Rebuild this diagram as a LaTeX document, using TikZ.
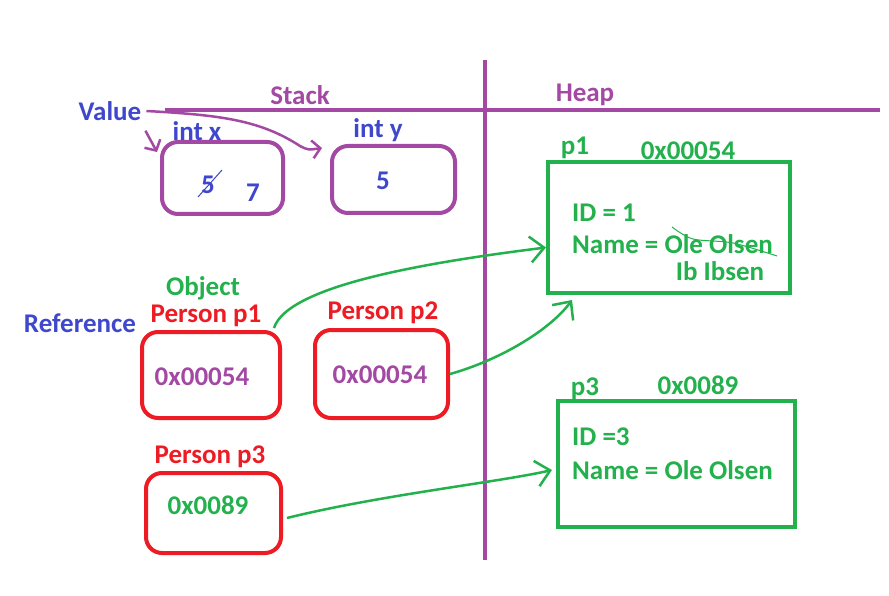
\documentclass[tikz,border=0pt]{standalone}
\usepackage{fontspec}
\setmainfont{Carlito}
\usetikzlibrary{arrows.meta,positioning}
\definecolor{stackpurple}{RGB}{163,73,164}
\definecolor{valblue}{RGB}{63,72,204}
\definecolor{refred}{RGB}{237,28,36}
\definecolor{heapgreen}{RGB}{34,177,76}

\begin{document}
\begin{tikzpicture}[x=1pt,y=-1pt,
  txt/.style={font=\bfseries\fontsize{27}{30}\selectfont,inner sep=0pt},
  valbox/.style={draw=stackpurple,line width=4pt,rounded corners=16pt},
  refbox/.style={draw=refred,line width=4pt,rounded corners=16pt},
  objbox/.style={draw=heapgreen,line width=4pt},
  pointer/.style={heapgreen,line width=2.5pt,-{Straight Barb[length=14pt,width=26pt,line width=2.5pt]}},
  valarrow/.style={stackpurple,line width=2.5pt,-{Straight Barb[length=8pt,width=18pt,line width=2.5pt]}}]
  \useasboundingbox (0,0) rectangle (889,596);
  \fill[white] (0,0) rectangle (889,596);

  % stack / heap dividers
  \draw[stackpurple,line width=4pt] (165,110) -- (880,110);
  \draw[stackpurple,line width=4pt] (485,60) -- (485,560);
  \node[txt,stackpurple] (lblStack) at (300,95) {Stack};
  \node[txt,stackpurple] (lblHeap) at (585,95) {Heap};

  % value types
  \node[txt,valblue] (lblValue) at (110,111) {Value};
  \node[valbox,minimum width=121,minimum height=72] (xbox) at (222.5,178) {};
  \node[valbox,minimum width=123,minimum height=67] (ybox) at (393.5,179.5) {};
  \node[txt,valblue] (lblIntX) at (197,131) {int x};
  \node[txt,valblue] (lblIntY) at (378,130) {int y};
  \node[txt,valblue] (xold) at (208,185) {5};
  \node[txt,valblue] (xnew) at (253,193) {7};
  \node[txt,valblue] (yval) at (383,181) {5};
  \draw[valblue,line width=1pt] (198,197) -- (222,170);

  \coordinate (valtip) at (157,152);
  \draw[valarrow] ([xshift=4pt,yshift=-10pt]lblValue.south east) -- (valtip);
  \draw[valarrow] ([xshift=5pt]lblValue.east) .. controls (220,115) and (260,120) .. (300,146)
    .. controls (308,150) .. ([xshift=-8pt,yshift=-4pt]ybox.north west);

  % references
  \node[txt,valblue] (lblReference) at (80,323) {Reference};
  \node[txt,heapgreen] (lblObject) at (203,288) {Object};
  \node[txt,refred] (lblP1) at (206,316) {Person p1};
  \node[txt,refred] (lblP2) at (383,313) {Person p2};
  \node[txt,refred] (lblP3) at (210,457) {Person p3};
  \node[refbox,minimum width=138,minimum height=86] (pp1) at (211,375) {};
  \node[refbox,minimum width=133,minimum height=88] (pp2) at (381.5,374) {};
  \node[refbox,minimum width=135,minimum height=80] (pp3) at (213.5,513) {};
  \node[txt,stackpurple] (addr1) at (202,377) {0x00054};
  \node[txt,stackpurple] (addr2) at (380,375) {0x00054};
  \node[txt,heapgreen] (addr3) at (208,505) {0x0089};

  % heap objects
  \node[objbox,minimum width=242,minimum height=131] (hp1) at (669,227.5) {};
  \node[objbox,minimum width=237,minimum height=126] (hp3) at (676.5,464) {};
  \node[txt,heapgreen] (lblHp1) at (575,148) {p1};
  \node[txt,heapgreen] (lblHp1addr) at (688,151) {0x00054};
  \node[txt,heapgreen,anchor=west] (hp1id) at (572,213) {ID = 1};
  \node[txt,heapgreen,anchor=west] (hp1name) at (572,244) {Name = Ole Olsen};
  \node[txt,heapgreen] (hp1new) at (720,271) {Ib Ibsen};
  \draw[heapgreen,line width=1pt] plot[smooth] coordinates {(672,227) (693,239) (733,243) (777,256)};
  \node[txt,heapgreen] (lblHp3) at (585,389) {p3};
  \node[txt,heapgreen] (lblHp3addr) at (698,385) {0x0089};
  \node[txt,heapgreen,anchor=west] (hp3id) at (572,437) {ID =3};
  \node[txt,heapgreen,anchor=west] (hp3name) at (572,470) {Name = Ole Olsen};

  % pointers
  \coordinate (p2tip) at (572,300);
  \draw[pointer] ([xshift=-8pt,yshift=2pt]pp1.north east) .. controls (288,285) and (430,262) .. ([yshift=-20pt]hp1.west);
  \draw[pointer] (pp2.east) .. controls (500,360) and (550,330) .. (p2tip);
  \draw[pointer] ([xshift=4pt,yshift=-5pt]pp3.east) .. controls (380,495) and (500,482) .. ([xshift=-4pt,yshift=-6pt]hp3.west);
\end{tikzpicture}
\end{document}
